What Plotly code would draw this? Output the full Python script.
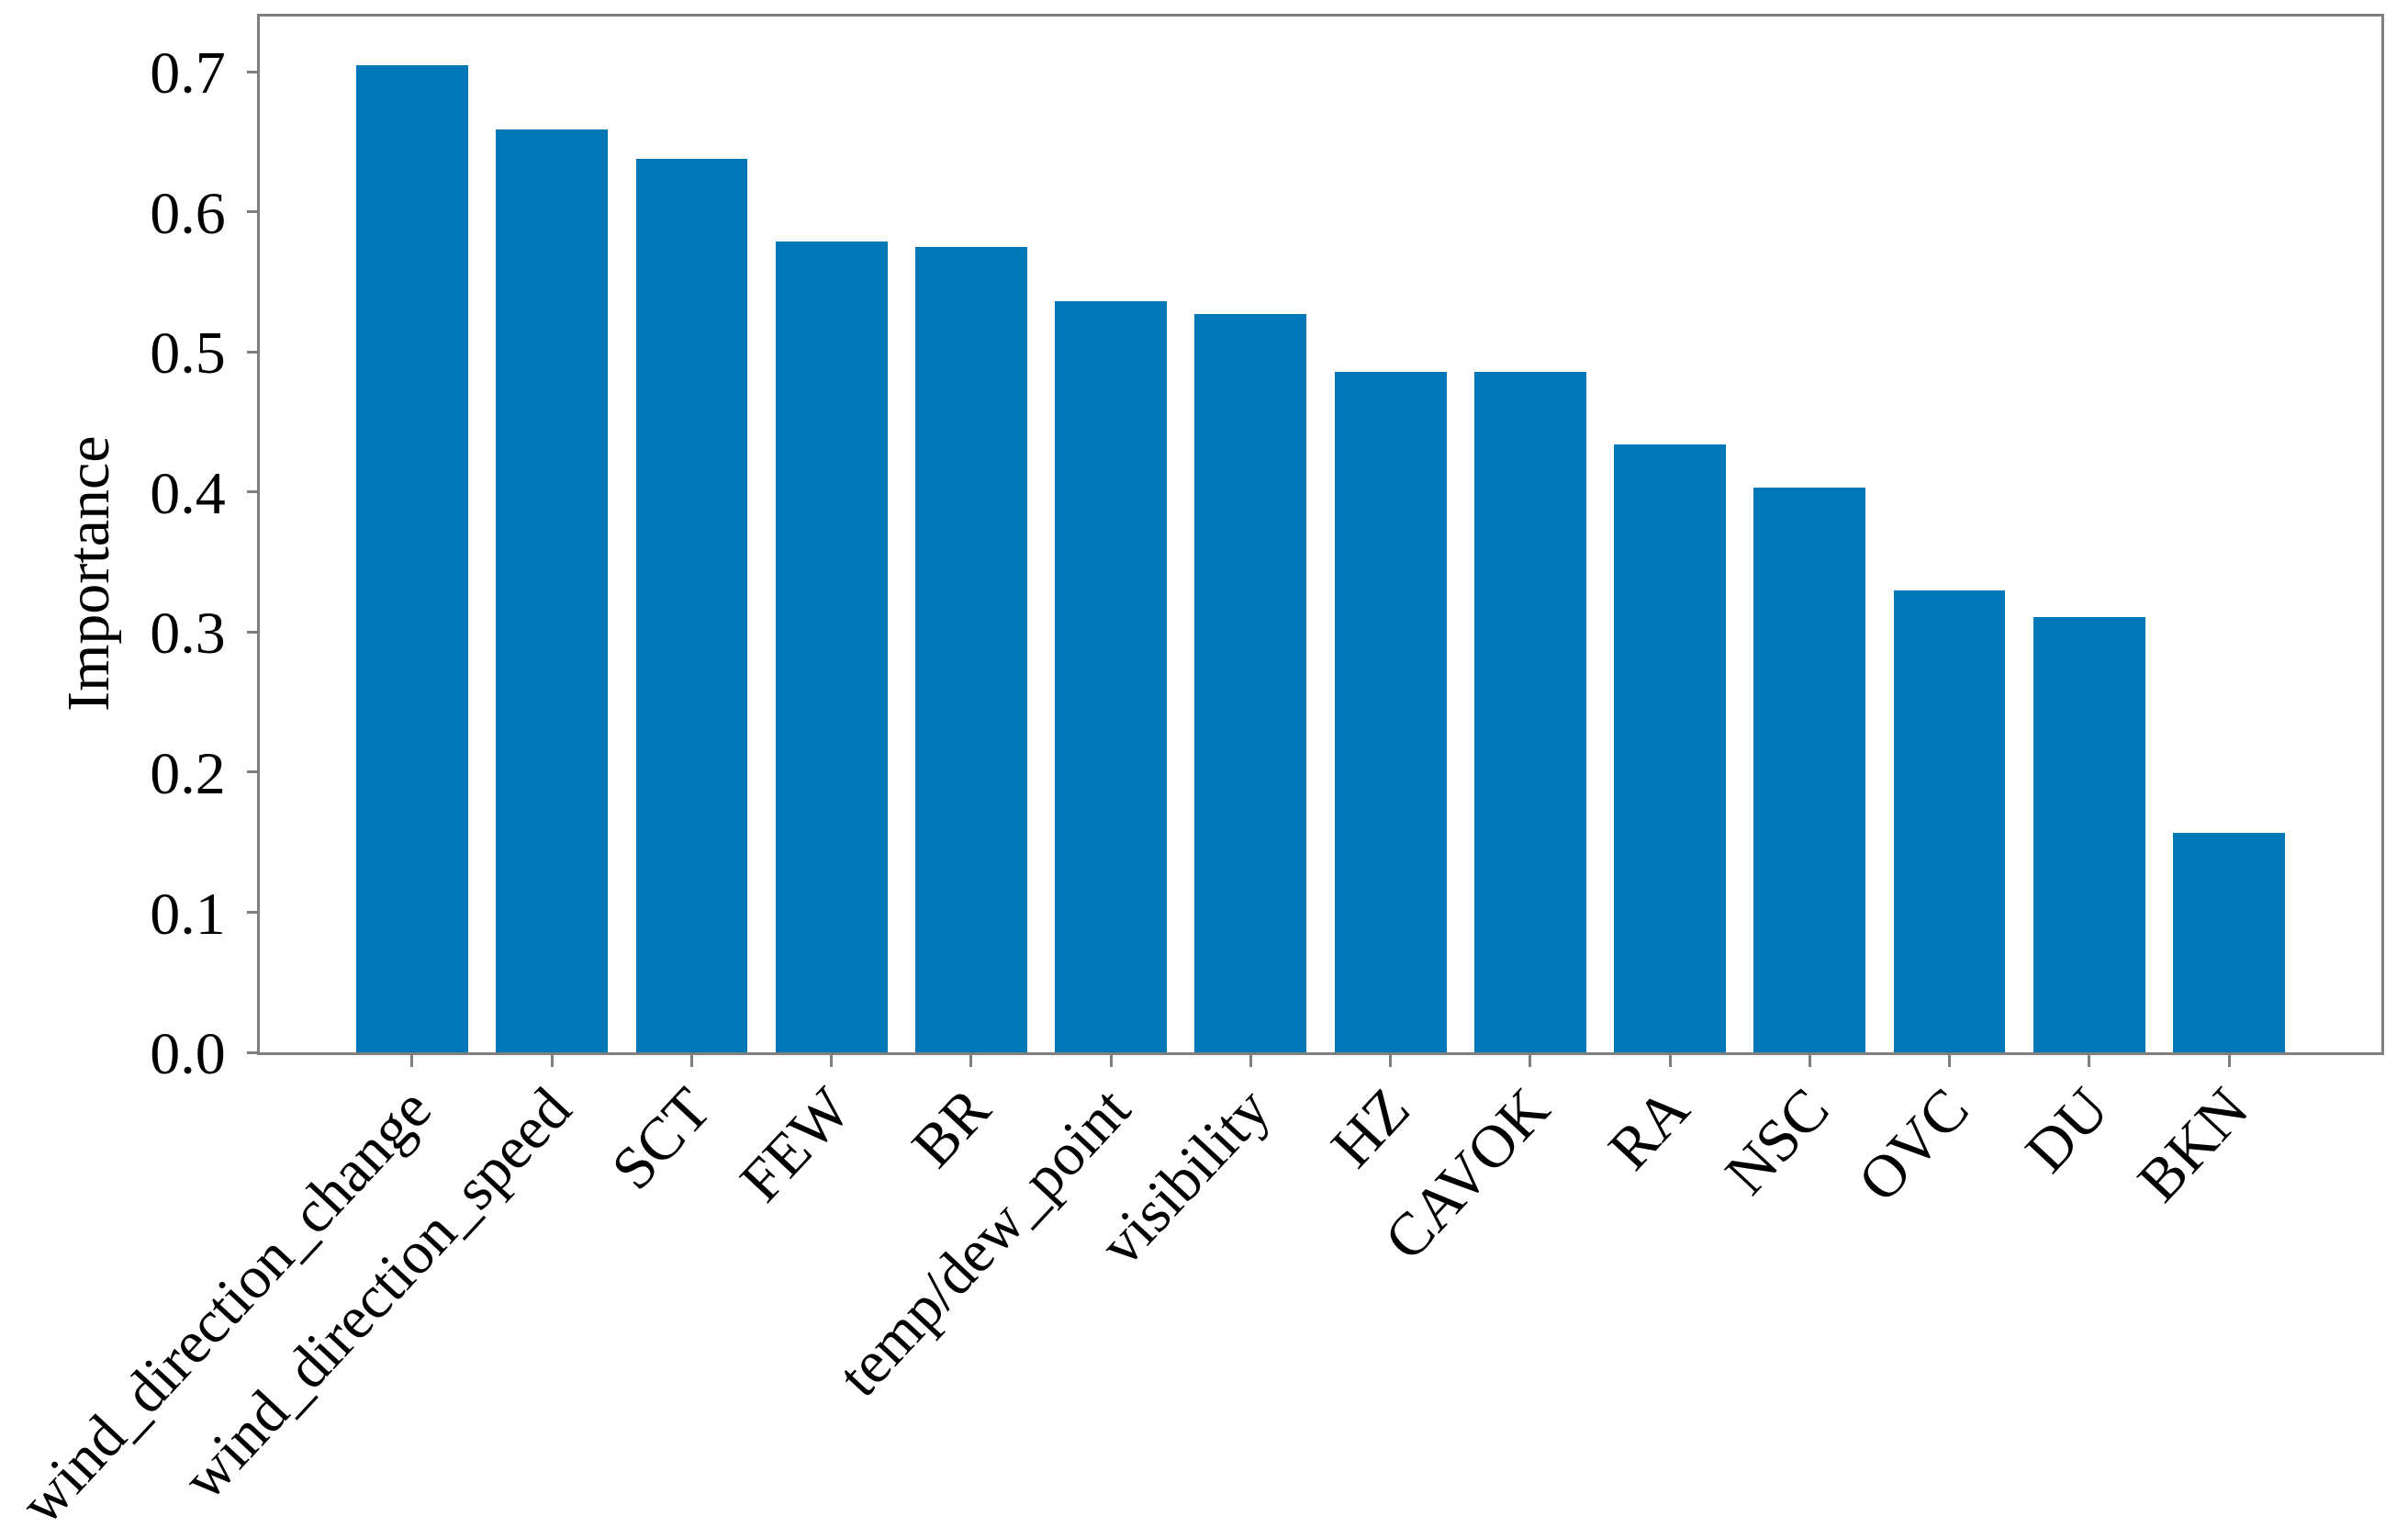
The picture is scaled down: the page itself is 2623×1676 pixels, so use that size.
import plotly.graph_objects as go

features = ["wind_direction_change", "wind_direction_speed", "SCT", "FEW", "BR",
            "temp/dew_point", "visibility", "HZ", "CAVOK", "RA", "NSC", "OVC", "DU", "BKN"]
importance = [0.705, 0.659, 0.638, 0.579, 0.575, 0.536, 0.527, 0.486, 0.486,
              0.434, 0.403, 0.330, 0.311, 0.157]
y_ticks = [0.0, 0.1, 0.2, 0.3, 0.4, 0.5, 0.6, 0.7]
y_label = "Importance"

FONT = "Liberation Serif, Times New Roman, serif"
AXC = "#7f7f7f"
OFF = 8  # page body margin

fig = go.Figure(go.Bar(
    x=list(range(len(features))), y=importance, width=0.8,
    marker=dict(color="#0077b6", line=dict(width=0)),
))

W, H = 2623 - OFF, 1676 - OFF
# target plot box in page coordinates
PX0, PX1, PY0, PY1 = 283, 2594, 18, 1146
L = PX0 - OFF
R = W - (PX1 - OFF)
T = PY0 - OFF
B = H - (PY1 - OFF)

fig.update_layout(
    width=W, height=H,
    margin=dict(l=L, r=R, t=T, b=B, autoexpand=False),
    paper_bgcolor="white", plot_bgcolor="white",
    showlegend=False,
    font=dict(family=FONT, size=65, color="black"),
    bargap=0,
)
fig.update_xaxes(
    range=[-1.09, 14.09], tickmode="array",
    tickvals=list(range(len(features))), ticktext=features,
    tickangle=-47, ticks="outside", ticklen=13, tickwidth=3, tickcolor=AXC,
    showline=True, linecolor=AXC, linewidth=3, mirror=True,
    showgrid=False, zeroline=False, automargin=False,
    tickfont=dict(family=FONT, size=66, color="black"),
    ticklabeloverflow="allow", ticklabelstandoff=-20,
)
fig.update_yaxes(
    range=[0, 0.7395], tickmode="array", tickvals=y_ticks,
    ticktext=[f"{v:.1f}" for v in y_ticks],
    ticks="outside", ticklen=11, tickwidth=3, tickcolor=AXC,
    showline=True, linecolor=AXC, linewidth=3, mirror=True,
    showgrid=False, zeroline=False, automargin=False,
    tickfont=dict(family=FONT, size=66, color="black"),
    ticklabelstandoff=10,
)
plot_w = PX1 - PX0
plot_h = PY1 - PY0
fig.add_annotation(
    text=y_label, xref="paper", yref="paper",
    x=(95 - PX0) / plot_w, y=(PY1 - 625) / plot_h,
    showarrow=False, textangle=-90,
    font=dict(family=FONT, size=66, color="black"),
    xanchor="center", yanchor="middle",
)

fig.write_html("out.html")
